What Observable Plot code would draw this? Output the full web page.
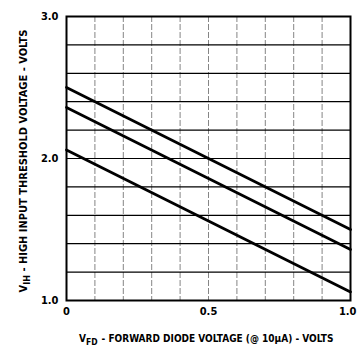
<!DOCTYPE html>
<html><head><meta charset="utf-8">
<script src="https://cdn.jsdelivr.net/npm/d3@7"></script>
<script src="https://cdn.jsdelivr.net/npm/@observablehq/plot@0.6"></script>
<style>
body{margin:0;background:#fff;}
#chart svg{display:block;}
</style></head><body><div id="chart"></div>
<script>
// Data
const vfd = [0, 0.5, 1.0];
const vihUpper  = [2.50, 2.00, 1.50];
const vihMiddle = [2.36, 1.86, 1.36];
const vihLower  = [2.06, 1.56, 1.06];
const curveNames = ["upper", "middle", "lower"];

const xTicks = [0, 0.5, 1.0];
const xTickLabels = ["0", "0.5", "1.0"];
const yTicks = [1.0, 2.0, 3.0];
const yTickLabels = ["1.0", "2.0", "3.0"];
const xGrid = [0.1, 0.2, 0.3, 0.4, 0.5, 0.6, 0.7, 0.8, 0.9];
const yGrid = [1.2, 1.4, 1.6, 1.8, 2.0, 2.2, 2.4, 2.6, 2.8];

const series = [vihUpper, vihMiddle, vihLower];
const data = [];
series.forEach((s, i) => s.forEach((v, j) => data.push({curve: curveNames[i], vfd: vfd[j], vih: v})));

const FONT = "'DejaVu Sans Condensed', 'Liberation Sans Narrow', sans-serif";
const xfmt = d => xTickLabels[xTicks.indexOf(d)];
const yfmt = d => yTickLabels[yTicks.indexOf(d)];

const chart = Plot.plot({
  width: 361, height: 352,
  marginLeft: 66, marginRight: 11, marginTop: 16, marginBottom: 52,
  style: {fontFamily: FONT, fontWeight: "bold", fontSize: "11px", background: "#fff", color: "#000"},
  x: {domain: [0, 1]},
  y: {domain: [1, 3]},
  marks: [
    Plot.ruleX(xGrid, {stroke: "#666", strokeWidth: 0.8, strokeDasharray: "6,2"}),
    Plot.ruleY(yGrid, {stroke: "#000", strokeWidth: 1.2}),
    Plot.frame({stroke: "#000", strokeWidth: 2}),
    Plot.line(data, {x: "vfd", y: "vih", z: "curve", stroke: "#000", strokeWidth: 2.8}),
    Plot.axisY(yTicks, {tickSize: 0, tickPadding: 8, tickFormat: yfmt, label: null}),
    Plot.axisX(xTicks.slice(0, 2), {tickSize: 0, tickPadding: 7, tickFormat: xfmt, label: null}),
    Plot.axisX(xTicks.slice(2), {tickSize: 0, tickPadding: 7, tickFormat: xfmt, label: null, textAnchor: "end", dx: 6})
  ]
});
document.getElementById("chart").appendChild(chart);

const svg = d3.select(chart);
// x axis label
const xl = svg.append("text")
  .attr("x", 79).attr("y", 342)
  .attr("text-anchor", "start")
  .attr("font-family", FONT).attr("font-weight", "bold").attr("font-size", 10)
  .attr("fill", "#000");
xl.append("tspan").text("V");
xl.append("tspan").attr("dy", 3).attr("font-size", 8.5).text("FD");
xl.append("tspan").attr("dy", -3).attr("dx", 4).text("- FORWARD DIODE VOLTAGE (@ 10\u00b5A) - VOLTS");

// y axis label
const yl = svg.append("text")
  .attr("transform", "translate(27,161) rotate(-90)")
  .attr("text-anchor", "middle")
  .attr("font-family", FONT).attr("font-weight", "bold").attr("font-size", 11)
  .attr("fill", "#000");
yl.append("tspan").text("V");
yl.append("tspan").attr("dy", 3).attr("font-size", 9).text("IH");
yl.append("tspan").attr("dy", -3).text(" - HIGH INPUT THRESHOLD VOLTAGE - VOLTS");
</script>
</body></html>
